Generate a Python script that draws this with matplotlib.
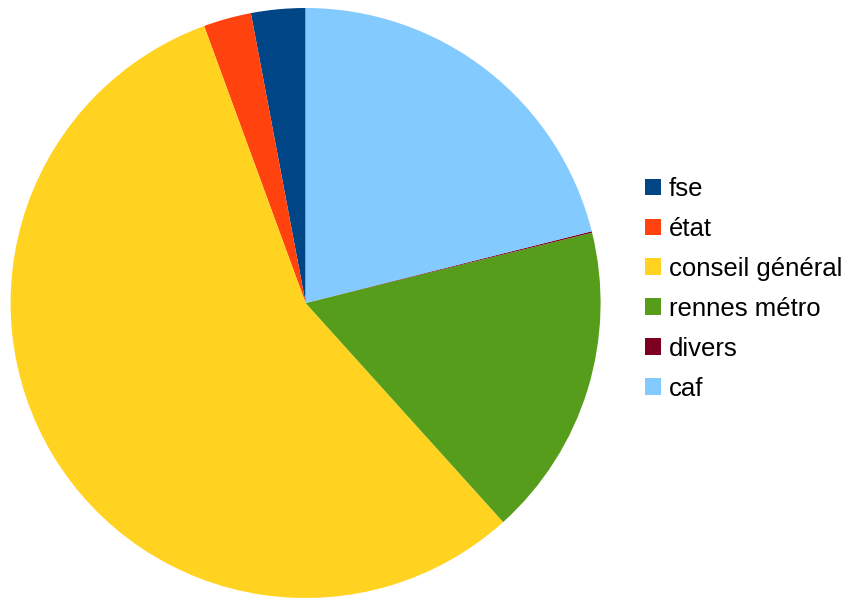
import matplotlib
matplotlib.use("Agg")
import matplotlib.pyplot as plt
from matplotlib.patches import Patch

labels = ["fse", "état", "conseil général", "rennes métro", "divers", "caf"]
values = [2.97, 2.62, 56.09, 17.15, 0.08, 21.09]
colors = ["#004586", "#ff420e", "#ffd320", "#579d1c", "#7e0021", "#83caff"]

plt.rcParams['font.family'] = ['Liberation Sans', 'DejaVu Sans']

fig = plt.figure(figsize=(8.43, 6.0), dpi=100)
ax = fig.add_axes([0, 0, 1, 1])

ax.pie(values, colors=colors, startangle=90, counterclock=True,
       center=(305.6, 600 - 303), radius=295,
       wedgeprops=dict(linewidth=0), frame=True)
ax.set_xlim(0, 843)
ax.set_ylim(0, 600)
ax.set_aspect('equal')
ax.axis('off')

handles = [Patch(facecolor=c, edgecolor='none') for c in colors]
leg = fig.legend(handles, labels, loc='upper left',
                 bbox_to_anchor=(645 / 843, 1 - 177 / 600),
                 frameon=False, fontsize=18.5,
                 handlelength=0.62, handleheight=0.62,
                 handletextpad=0.3, labelspacing=0.62,
                 borderaxespad=0, borderpad=0)

fig.savefig("out.png", dpi=100)
